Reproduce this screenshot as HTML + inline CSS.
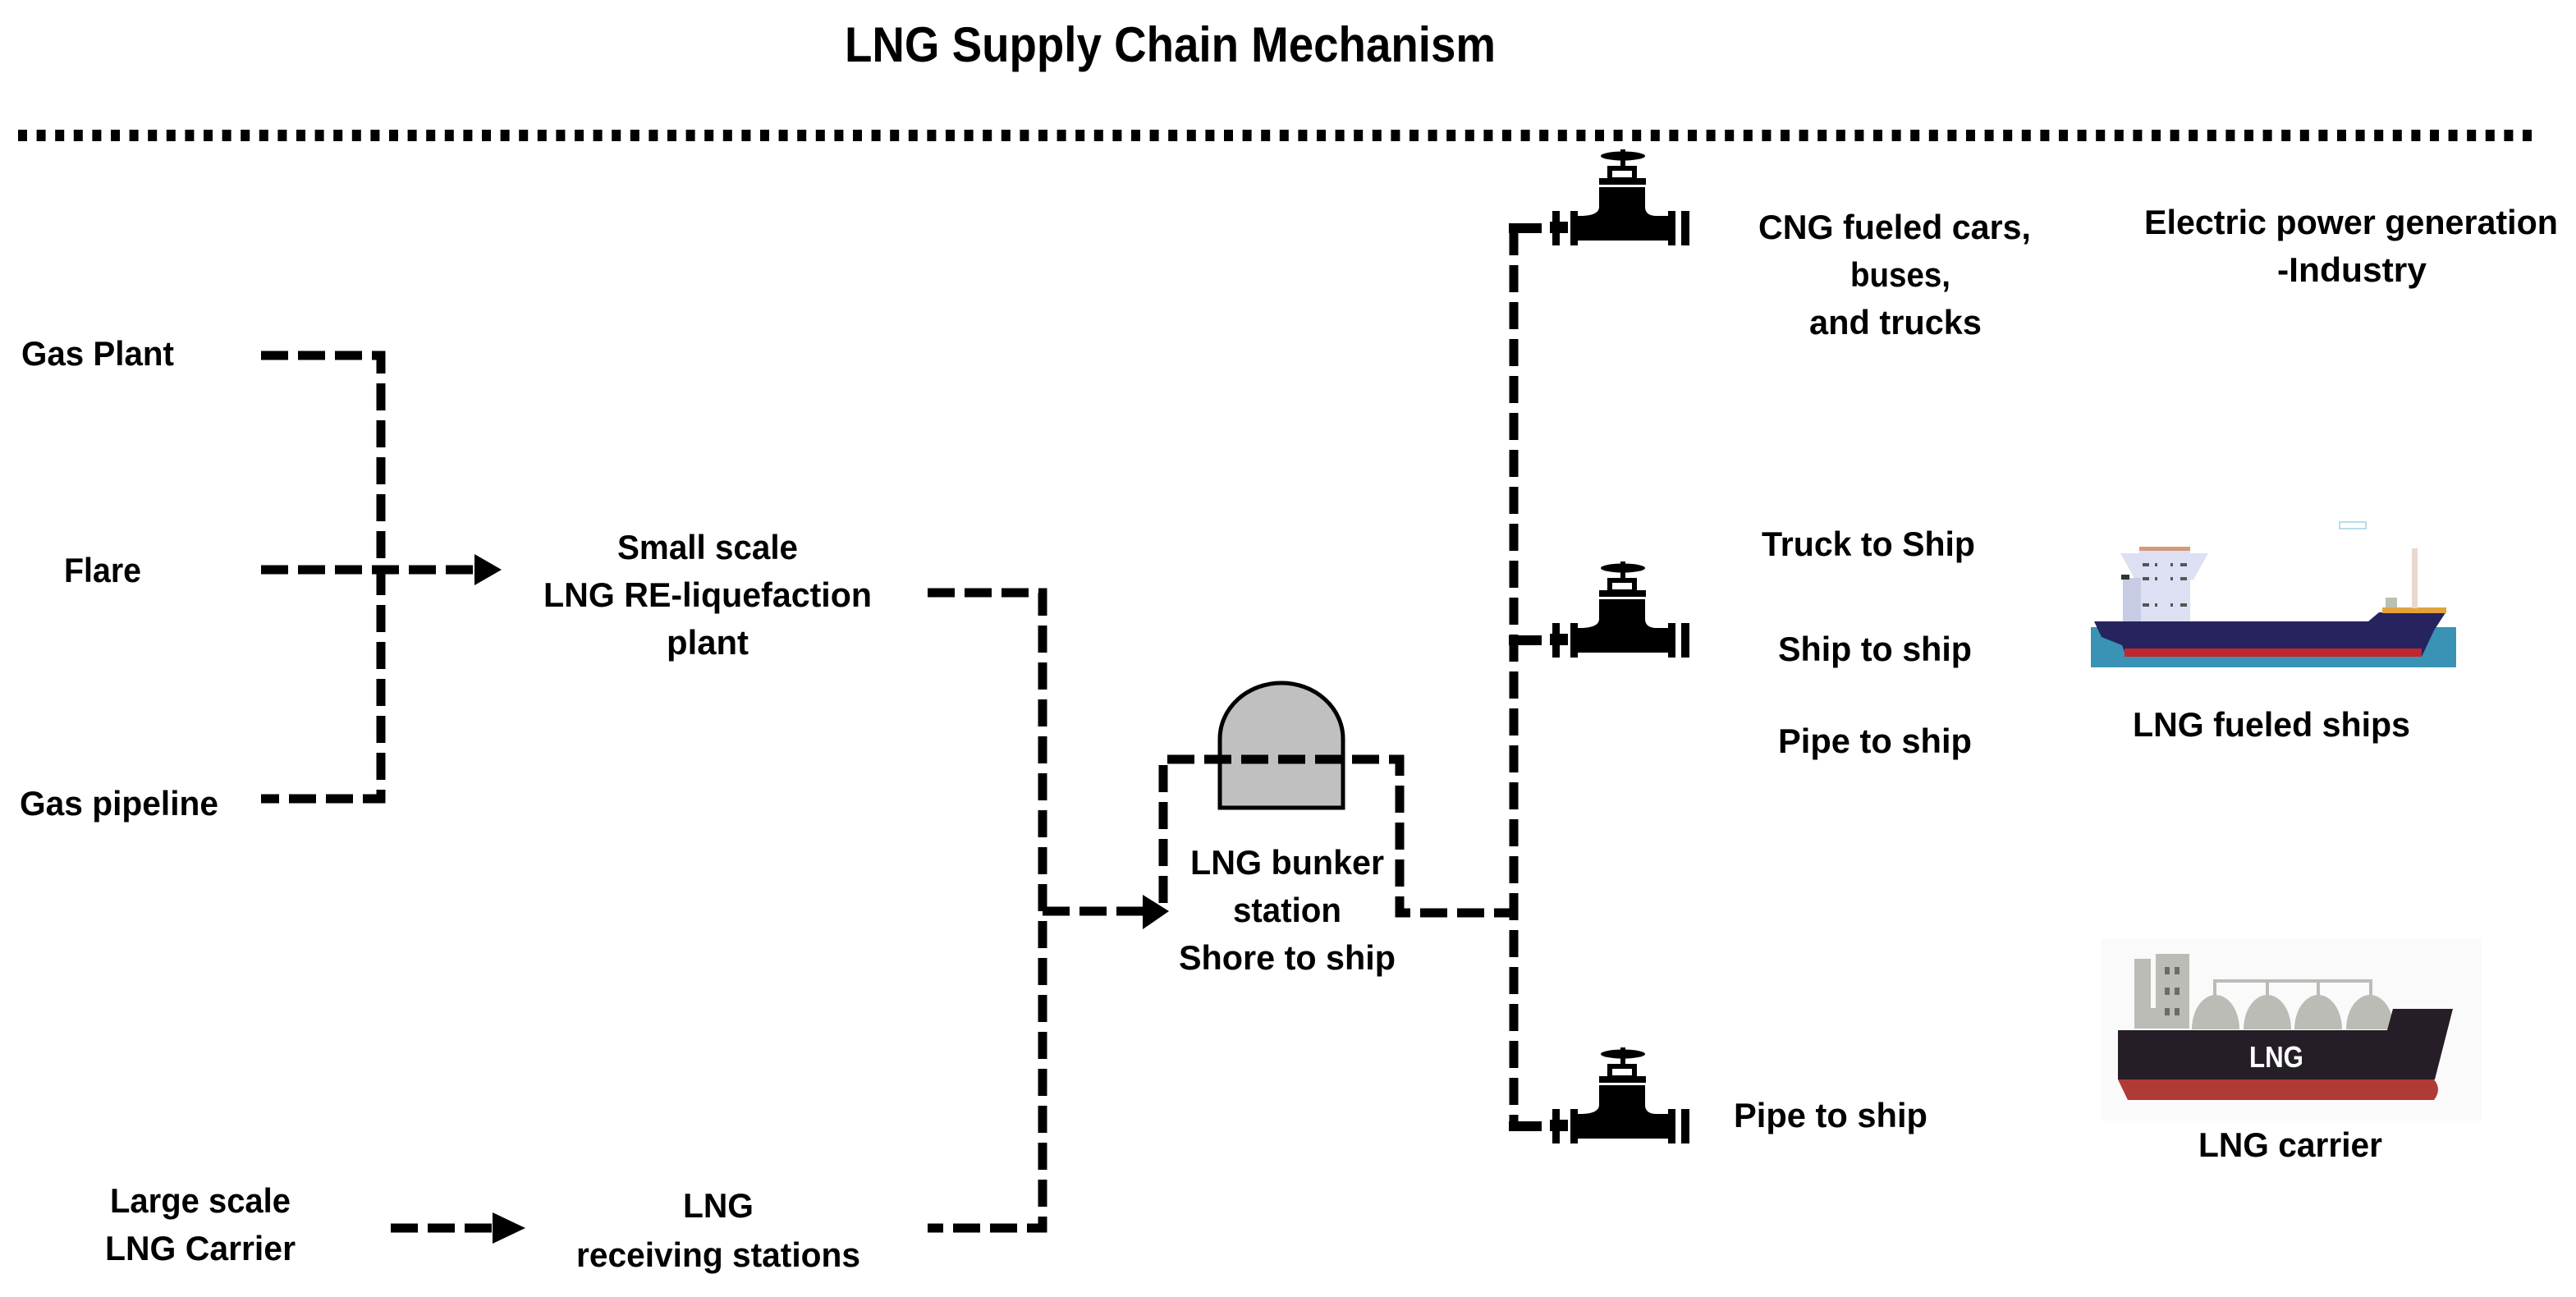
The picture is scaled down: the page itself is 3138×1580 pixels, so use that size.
<!DOCTYPE html>
<html><head><meta charset="utf-8"><style>
html,body{margin:0;padding:0;background:#fff;}
svg{display:block;}
text{font-family:"Liberation Sans",sans-serif;font-weight:bold;fill:#000;}
</style></head><body>
<svg width="3138" height="1580" viewBox="0 0 3138 1580" xmlns="http://www.w3.org/2000/svg">
<defs>
<g id="valve">
  <rect x="-6" y="-6" width="40" height="12" fill="#000"/>
  <rect x="47" y="-21" width="9" height="42" fill="#000"/>
  <rect x="44" y="-8" width="22" height="14" fill="#000"/>
  <rect x="69" y="-21" width="9" height="42" fill="#000"/>
  <rect x="69" y="-15" width="125" height="30" fill="#000"/>
  <rect x="188" y="-21" width="9" height="42" fill="#000"/>
  <rect x="204" y="-21" width="10" height="42" fill="#000"/>
  <path d="M104,-50 L160,-50 L160,-26 Q160,-16 172,-15 L84,-15 Q104,-16 104,-26 Z" fill="#000"/>
  <rect x="104" y="-61" width="57" height="8" fill="#000"/>
  <rect x="117" y="-73" width="30" height="14" fill="none" stroke="#000" stroke-width="6"/>
  <rect x="130" y="-96" width="6" height="22" fill="#000"/>
  <ellipse cx="133" cy="-88" rx="27" ry="5.5" fill="#000"/>
</g>
</defs>

<text x="1029" y="75" font-size="60" textLength="793" lengthAdjust="spacingAndGlyphs">LNG Supply Chain Mechanism</text>
<line x1="22" y1="165" x2="3090" y2="165" stroke="#000" stroke-width="14" stroke-dasharray="11 11.6"/>

<g fill="none" stroke="#000" stroke-width="11" stroke-dasharray="33 12">
  <path d="M318,433 H464 V973 H318"/>
  <path d="M318,694 H580"/>
  <path d="M1130,722 H1270 V1496 H1130"/>
  <path d="M1270,1110 H1400"/>
  <path d="M476,1496 H602"/>
</g>
<polygon points="578,675 611,694 578,713" fill="#000"/>
<polygon points="600,1477 640,1496 600,1515" fill="#000"/>
<polygon points="1392,1090 1424,1110 1392,1132" fill="#000"/>

<!-- tank -->
<path d="M1486,984 V900 A75,68 0 0 1 1636,900 V984 Z" fill="#c0c0c0" stroke="#000" stroke-width="5"/>
<g fill="none" stroke="#000" stroke-width="11" stroke-dasharray="33 12">
  <path d="M1417,1100 V925 H1705 V1112 H1844"/>
  <path d="M1844,278 V1372"/>
</g>
<rect x="1839" y="272" width="11" height="12" fill="#000"/>
<rect x="1839" y="1366" width="11" height="12" fill="#000"/>

<use href="#valve" transform="translate(1844,278)"/>
<use href="#valve" transform="translate(1844,780)"/>
<use href="#valve" transform="translate(1844,1372)"/>

<!-- labels -->
<text x="26" y="445" font-size="42" textLength="186" lengthAdjust="spacingAndGlyphs">Gas Plant</text>
<text x="78" y="709" font-size="42" textLength="94" lengthAdjust="spacingAndGlyphs">Flare</text>
<text x="24" y="993" font-size="42" textLength="242" lengthAdjust="spacingAndGlyphs">Gas pipeline</text>
<text x="752" y="681" font-size="42" textLength="220" lengthAdjust="spacingAndGlyphs">Small scale</text>
<text x="662" y="739" font-size="42" textLength="400" lengthAdjust="spacingAndGlyphs">LNG RE-liquefaction</text>
<text x="812" y="797" font-size="42" textLength="100" lengthAdjust="spacingAndGlyphs">plant</text>
<text x="1450" y="1065" font-size="42" textLength="236" lengthAdjust="spacingAndGlyphs">LNG bunker</text>
<text x="1502" y="1123" font-size="42" textLength="132" lengthAdjust="spacingAndGlyphs">station</text>
<text x="1436" y="1181" font-size="42" textLength="264" lengthAdjust="spacingAndGlyphs">Shore to ship</text>
<text x="134" y="1477" font-size="42" textLength="220" lengthAdjust="spacingAndGlyphs">Large scale</text>
<text x="128" y="1535" font-size="42" textLength="232" lengthAdjust="spacingAndGlyphs">LNG Carrier</text>
<text x="832" y="1483" font-size="42" textLength="86" lengthAdjust="spacingAndGlyphs">LNG</text>
<text x="702" y="1543" font-size="42" textLength="346" lengthAdjust="spacingAndGlyphs">receiving stations</text>
<text x="2142" y="291" font-size="42" textLength="332" lengthAdjust="spacingAndGlyphs">CNG fueled cars,</text>
<text x="2254" y="349" font-size="42" textLength="122" lengthAdjust="spacingAndGlyphs">buses,</text>
<text x="2204" y="407" font-size="42" textLength="210" lengthAdjust="spacingAndGlyphs">and trucks</text>
<text x="2612" y="285" font-size="42" textLength="504" lengthAdjust="spacingAndGlyphs">Electric power generation</text>
<text x="2774" y="343" font-size="42" textLength="182" lengthAdjust="spacingAndGlyphs">-Industry</text>
<text x="2146" y="677" font-size="42" textLength="260" lengthAdjust="spacingAndGlyphs">Truck to Ship</text>
<text x="2166" y="805" font-size="42" textLength="236" lengthAdjust="spacingAndGlyphs">Ship to ship</text>
<text x="2166" y="917" font-size="42" textLength="236" lengthAdjust="spacingAndGlyphs">Pipe to ship</text>
<text x="2598" y="897" font-size="42" textLength="338" lengthAdjust="spacingAndGlyphs">LNG fueled ships</text>
<text x="2112" y="1373" font-size="42" textLength="236" lengthAdjust="spacingAndGlyphs">Pipe to ship</text>
<text x="2678" y="1409" font-size="42" textLength="224" lengthAdjust="spacingAndGlyphs">LNG carrier</text>

<!-- fueled ship -->
<rect x="2547" y="764" width="445" height="49" fill="#3a93b5"/>
<path d="M2551,757 L2885,757 L2898,746 L2980,745 L2965,768 L2950,800 L2590,800 L2585,786 L2560,776 Z" fill="#26235f"/>
<rect x="2588" y="790" width="362" height="10" fill="#c1272d"/>
<rect x="2902" y="740" width="78" height="7" fill="#e3a33a"/>
<rect x="2938" y="668" width="7" height="73" fill="#e8d8d0"/>
<rect x="2906" y="728" width="14" height="12" fill="#b9c2b0"/>
<rect x="2606" y="670" width="62" height="87" fill="#dde0f3"/>
<polygon points="2583,674 2690,674 2672,706 2601,706" fill="#dde0f3"/>
<rect x="2586" y="704" width="22" height="53" fill="#c8cbe4"/>
<rect x="2584" y="700" width="10" height="6" fill="#333"/>
<rect x="2606" y="666" width="62" height="5" fill="#d59a7a"/>
<rect x="2850" y="636" width="32" height="8" fill="none" stroke="#b8dcec" stroke-width="2"/>
<g fill="#555">
  <rect x="2610" y="686" width="8" height="4"/><rect x="2625" y="686" width="3" height="4"/><rect x="2644" y="686" width="3" height="4"/><rect x="2656" y="686" width="8" height="4"/>
  <rect x="2610" y="703" width="8" height="4"/><rect x="2625" y="703" width="3" height="4"/><rect x="2644" y="703" width="3" height="4"/><rect x="2656" y="703" width="8" height="4"/>
  <rect x="2610" y="735" width="8" height="4"/><rect x="2625" y="735" width="3" height="4"/><rect x="2644" y="735" width="3" height="4"/><rect x="2656" y="735" width="8" height="4"/>
</g>

<!-- LNG carrier -->
<rect x="2560" y="1143" width="463" height="222" fill="#fafafa"/>
<path d="M2600,1253 V1168 H2620 V1228 H2626 V1162 H2667 V1253 Z" fill="#bcbcb6"/>
<g fill="#6b6b6b">
  <rect x="2637" y="1178" width="6" height="9"/><rect x="2649" y="1178" width="6" height="9"/>
  <rect x="2637" y="1203" width="6" height="9"/><rect x="2649" y="1203" width="6" height="9"/>
  <rect x="2637" y="1228" width="6" height="9"/><rect x="2649" y="1228" width="6" height="9"/>
</g>
<path d="M2698,1213 V1195 H2888 V1213 M2762,1195 V1213 M2824,1195 V1213" fill="none" stroke="#bcbcb6" stroke-width="4"/>
<g fill="#bcbcb6">
  <path d="M2670,1254 A29,42 0 0 1 2728,1254 Z"/>
  <path d="M2733,1254 A29,42 0 0 1 2791,1254 Z"/>
  <path d="M2795,1254 A29,42 0 0 1 2853,1254 Z"/>
  <path d="M2858,1254 A29,42 0 0 1 2916,1254 Z"/>
</g>
<path d="M2580,1255 L2908,1255 L2915,1229 L2988,1229 L2966,1315 L2580,1315 Z" fill="#261e26"/>
<path d="M2580,1315 L2965,1315 Q2975,1327 2965,1340 L2592,1340 Z" fill="#b03a35"/>
<text x="2740" y="1300" font-size="36" fill="#fff" style="fill:#fff" textLength="66" lengthAdjust="spacingAndGlyphs">LNG</text>
</svg>
</body></html>
